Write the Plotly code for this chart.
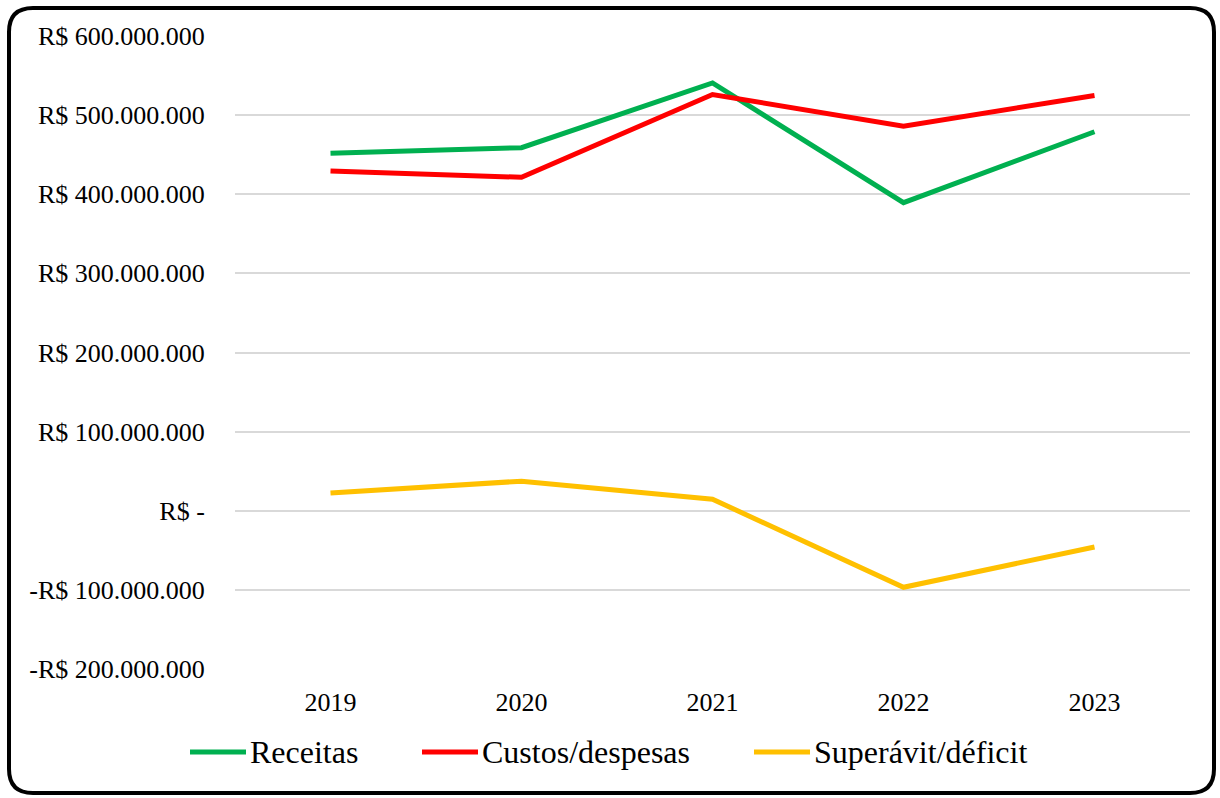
import plotly.graph_objects as go

# Annual figures (R$)
anos = ["2019", "2020", "2021", "2022", "2023"]
receitas = [451_700_000, 458_800_000, 540_700_000, 389_400_000, 479_000_000]
custos_despesas = [429_400_000, 421_400_000, 526_100_000, 486_100_000, 524_800_000]
superavit_deficit = [22_300_000, 37_400_000, 14_600_000, -96_700_000, -45_800_000]

y_ticks = [-200_000_000, -100_000_000, 0, 100_000_000, 200_000_000,
           300_000_000, 400_000_000, 500_000_000, 600_000_000]
y_tick_labels = ["-R$ 200.000.000", "-R$ 100.000.000", "R$ -", "R$ 100.000.000",
                 "R$ 200.000.000", "R$ 300.000.000", "R$ 400.000.000",
                 "R$ 500.000.000", "R$ 600.000.000"]

series = [
    ("Receitas", receitas, "#00B050"),
    ("Custos/despesas", custos_despesas, "#FF0000"),
    ("Superávit/déficit", superavit_deficit, "#FFC000"),
]

W, H = 1220, 798
ML, MR, MT, MB = 235, 30, 36, 129
PW, PH = W - ML - MR, H - MT - MB


def px(x):
    return (x - ML) / PW


def py(y):
    return (H - MB - y) / PH


FONT = "Liberation Serif, Times New Roman, serif"

fig = go.Figure()
for name, vals, color in series:
    fig.add_trace(go.Scatter(
        x=anos, y=vals, mode="lines", name=name,
        line=dict(color=color, width=5),
        showlegend=False,
    ))

shapes = []
annotations = []

# rounded outer frame
x0, x1, y0, y1, r = 9, 1214, 8, 793, 24
path = (f"M {px(x0 + r)},{py(y0)} L {px(x1 - r)},{py(y0)} "
        f"Q {px(x1)},{py(y0)} {px(x1)},{py(y0 + r)} "
        f"L {px(x1)},{py(y1 - r)} Q {px(x1)},{py(y1)} {px(x1 - r)},{py(y1)} "
        f"L {px(x0 + r)},{py(y1)} Q {px(x0)},{py(y1)} {px(x0)},{py(y1 - r)} "
        f"L {px(x0)},{py(y0 + r)} Q {px(x0)},{py(y0)} {px(x0 + r)},{py(y0)} Z")
shapes.append(dict(type="path", xref="paper", yref="paper", path=path,
                   line=dict(color="black", width=4), layer="above"))

# legend row
legend_pos = [(190, 246), (422, 478), (754, 810)]
ly = 752
for (name, _, color), (lx0, lx1) in zip(series, legend_pos):
    shapes.append(dict(type="line", xref="paper", yref="paper",
                       x0=px(lx0), x1=px(lx1), y0=py(ly), y1=py(ly),
                       line=dict(color=color, width=5)))
    annotations.append(dict(xref="paper", yref="paper", x=px(lx1 + 2), y=py(ly),
                            xanchor="left", yanchor="middle", showarrow=False,
                            text=name, font=dict(family=FONT, size=32, color="black")))

fig.update_layout(
    width=W, height=H,
    margin=dict(l=ML, r=MR, t=MT, b=MB, autoexpand=False),
    paper_bgcolor="white", plot_bgcolor="white",
    font=dict(family=FONT, size=26, color="black"),
    shapes=shapes, annotations=annotations,
    showlegend=False,
)
fig.update_xaxes(
    type="category", range=[-0.5, 4.5],
    showgrid=False, showline=False, zeroline=False,
    ticks="outside", ticklen=10, tickcolor="rgba(0,0,0,0)",
    tickfont=dict(family=FONT, size=26, color="black"),
)
fig.update_yaxes(
    range=[-200_000_000, 600_000_000],
    tickvals=y_ticks, ticktext=y_tick_labels,
    showgrid=True, gridcolor="#D9D9D9", gridwidth=1.5,
    zeroline=False, showline=False,
    ticks="outside", ticklen=24, tickcolor="rgba(0,0,0,0)",
    tickfont=dict(family=FONT, size=26, color="black"),
)

fig.write_html("out.html")
